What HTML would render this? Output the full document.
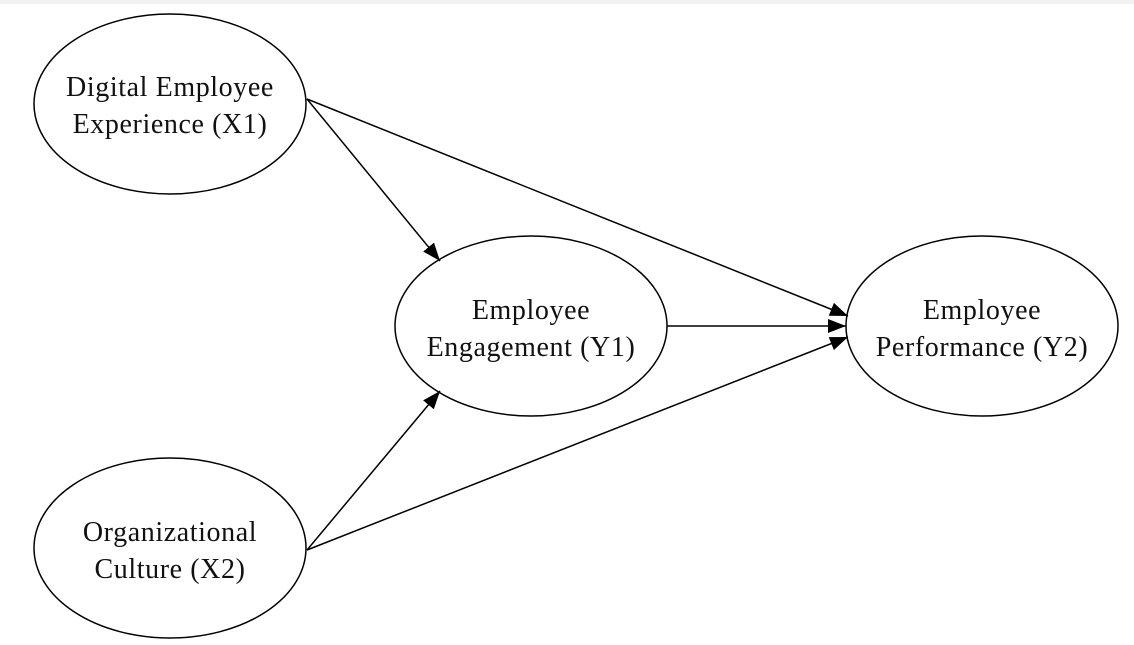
<!DOCTYPE html>
<html><head><style>
html,body{margin:0;padding:0;background:#fff;}
svg{display:block;}
text{font-family:"Liberation Serif",serif;font-size:28px;letter-spacing:0.6px;fill:#111;text-anchor:middle;}
</style></head><body>
<svg width="1134" height="645" viewBox="0 0 1134 645">
<rect x="0" y="0" width="1134" height="4" fill="#f2f2f2"/>
<defs>
<marker id="b" markerWidth="18" markerHeight="14" refX="18" refY="7" orient="auto" markerUnits="userSpaceOnUse" viewBox="0 0 18 14"><path d="M0,0 L18,7 L0,14 z" fill="#000"/></marker></defs>
<g fill="none" stroke="#000" stroke-width="1.5">
<ellipse cx="170" cy="104" rx="136" ry="90"/>
<ellipse cx="170" cy="548" rx="136" ry="90"/>
<ellipse cx="531" cy="326" rx="136" ry="90"/>
<ellipse cx="982" cy="326" rx="136" ry="90"/>
<line x1="307" y1="99" x2="440" y2="261" marker-end="url(#b)"/>
<line x1="307" y1="99" x2="848" y2="316" marker-end="url(#b)"/>
<line x1="667" y1="326" x2="846" y2="326" marker-end="url(#b)"/>
<line x1="307" y1="550" x2="440" y2="391" marker-end="url(#b)"/>
<line x1="307" y1="550" x2="848" y2="337" marker-end="url(#b)"/>
</g>
<text x="170" y="96">Digital Employee</text>
<text x="170" y="133">Experience (X1)</text>
<text x="170" y="541">Organizational</text>
<text x="170" y="578">Culture (X2)</text>
<text x="531" y="319">Employee</text>
<text x="531" y="356">Engagement (Y1)</text>
<text x="982" y="319">Employee</text>
<text x="982" y="356">Performance (Y2)</text>
</svg>
</body></html>
